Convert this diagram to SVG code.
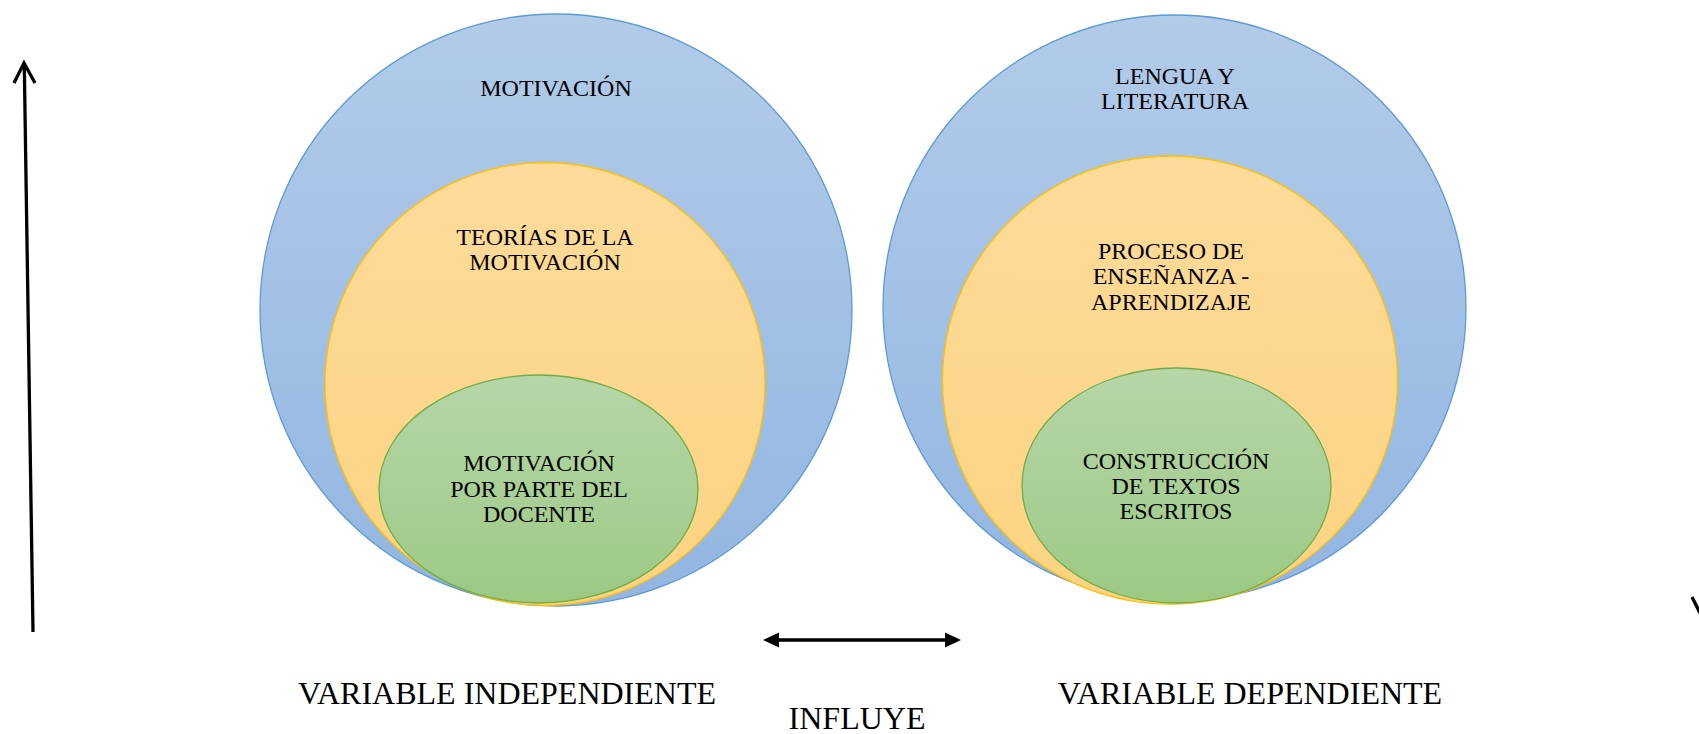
<svg xmlns="http://www.w3.org/2000/svg" width="1699" height="734" viewBox="0 0 1699 734">
<style>
.t{font-family:"Liberation Serif","Times New Roman",serif;font-size:24px;fill:#000;text-anchor:middle}
.b{font-family:"Liberation Serif","Times New Roman",serif;font-size:32px;fill:#000;text-anchor:middle}
.blue{fill:url(#gb);stroke:#5b9bd5;stroke-width:1.3}
.yel{fill:url(#gy);stroke:#ffc000;stroke-width:1.3}
.grn{fill:url(#gg);stroke:#70ad47;stroke-width:1.3}
.ln{stroke:#000;stroke-width:3.3;fill:none}
</style>
<defs>
<linearGradient id="gb" x1="0" y1="0" x2="0" y2="1"><stop offset="0" stop-color="#b2cbe9"/><stop offset="1" stop-color="#92b6e1"/></linearGradient>
<linearGradient id="gy" x1="0" y1="0" x2="0" y2="1"><stop offset="0" stop-color="#fddb9a"/><stop offset="1" stop-color="#fcd382"/></linearGradient>
<linearGradient id="gg" x1="0" y1="0" x2="0" y2="1"><stop offset="0" stop-color="#b6d6a8"/><stop offset="1" stop-color="#9cc984"/></linearGradient>
</defs>

<g id="left-outer"><ellipse class="blue" cx="556" cy="310" rx="296" ry="296"/><text class="t" x="556" y="96">MOTIVACIÓN</text></g>
<g id="left-middle"><ellipse class="yel" cx="545" cy="384" rx="220" ry="221.5"/><text class="t" x="545" y="245">TEORÍAS DE LA</text><text class="t" x="545" y="270">MOTIVACIÓN</text></g>
<g id="left-inner"><ellipse class="grn" cx="538.5" cy="489" rx="159.5" ry="114"/><text class="t" x="539" y="471">MOTIVACIÓN</text><text class="t" x="539" y="497">POR PARTE DEL</text><text class="t" x="539" y="522">DOCENTE</text></g>

<g id="right-outer"><ellipse class="blue" cx="1174.5" cy="308" rx="291.5" ry="293"/><text class="t" x="1175" y="84">LENGUA Y</text><text class="t" x="1175" y="109">LITERATURA</text></g>
<g id="right-middle"><ellipse class="yel" cx="1170" cy="380" rx="227.5" ry="224"/><text class="t" x="1171" y="259">PROCESO DE</text><text class="t" x="1171" y="284">ENSEÑANZA -</text><text class="t" x="1171" y="310">APRENDIZAJE</text></g>
<g id="right-inner"><ellipse class="grn" cx="1176.5" cy="485.5" rx="154.5" ry="117.5"/><text class="t" x="1176" y="469">CONSTRUCCIÓN</text><text class="t" x="1176" y="494">DE TEXTOS</text><text class="t" x="1176" y="519">ESCRITOS</text></g>

<g id="labels">
<text class="b" x="507" y="704">VARIABLE INDEPENDIENTE</text>
<text class="b" x="1250" y="704">VARIABLE DEPENDIENTE</text>
<text class="b" x="857" y="729">INFLUYE</text>
</g>

<g id="connectors">
<path class="ln" d="M33,632 L24.3,66"/>
<path class="ln" d="M14,83 L24,63 L35,83" stroke-linejoin="miter"/>
<path class="ln" d="M777,640 L947,640"/>
<path d="M763,640 L779,632.5 L779,647.5 Z" fill="#000"/>
<path d="M961,640 L945,632.5 L945,647.5 Z" fill="#000"/>
<path class="ln" d="M1692,597 L1700,613"/>
</g>
</svg>
